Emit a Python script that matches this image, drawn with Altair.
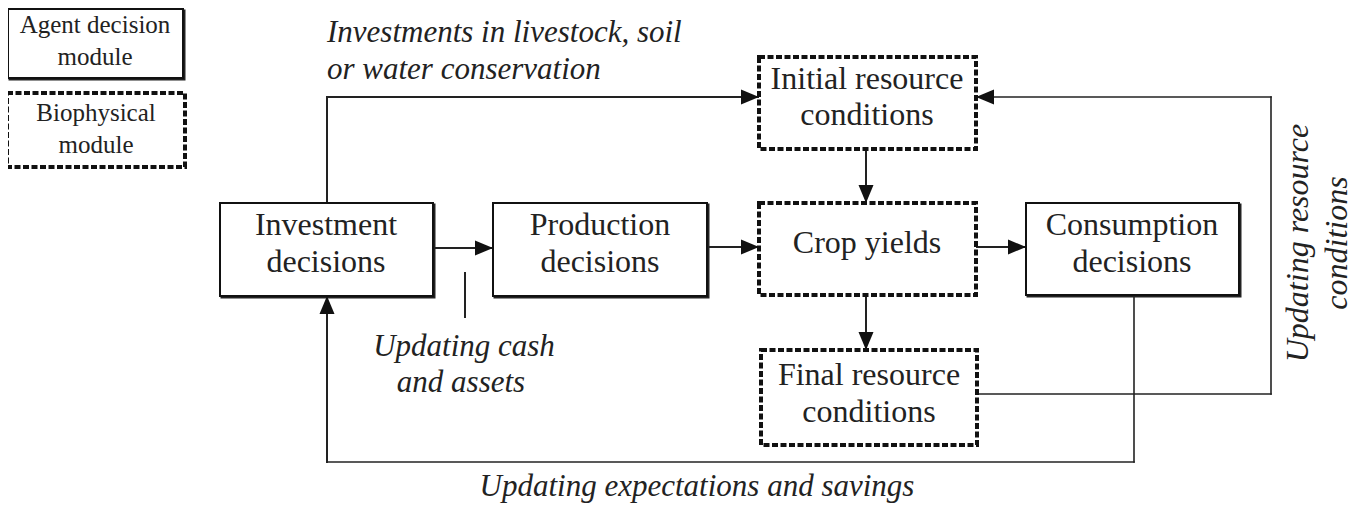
import altair as alt
import pandas as pd

# ---- boxes (image pixel coordinates) ----
box_name = ["legend_agent", "legend_bio", "investment", "production",
            "initial", "crop", "final", "consumption"]
box_x1 = [8, 7, 220, 493, 759, 759, 761, 1026]
box_x2 = [183, 185, 433, 707, 976, 976, 977, 1239]
box_y1 = [9, 93, 203, 203, 57, 203, 350, 203]
box_y2 = [78, 167, 296, 296, 149, 295, 445, 295]
box_kind = ["agent", "bio", "agent", "agent", "bio", "bio", "bio", "agent"]

# ---- connector segments ----
seg_x1 = [433, 327, 327, 866, 707, 976, 866, 977, 1271, 1271, 1134, 1134, 327, 465]
seg_x2 = [493, 327, 759, 866, 759, 1026, 866, 1271, 1271, 976, 1134, 327, 327, 465]
seg_y1 = [248, 203, 97, 149, 247, 247, 295, 394, 394, 97, 295, 462, 462, 273]
seg_y2 = [248, 97, 97, 203, 247, 247, 350, 394, 97, 97, 462, 462, 296, 317]
seg_w = [2, 2, 2, 2, 2, 2, 2, 1.6, 1.6, 1.6, 1.6, 1.6, 2, 2]

# ---- arrow heads (tip positions, direction in degrees) ----
head_x = [493, 759, 866, 759, 1026, 866, 976, 327]
head_y = [248, 97, 203, 247, 247, 350, 97, 296]
head_angle = [0, 0, 90, 0, 0, 90, 180, 270]

# ---- box labels ----
lab_text = ["Agent decision", "module", "Biophysical", "module",
            "Investment", "decisions", "Production", "decisions",
            "Initial resource", "conditions", "Crop yields",
            "Consumption", "decisions", "Final resource", "conditions"]
lab_x = [95, 95, 96, 96, 326, 326, 600, 600, 867, 867, 867, 1132, 1132, 869, 869]
lab_y = [25, 57, 113, 145, 225, 262, 225, 262, 79, 115, 243, 225, 262, 375, 412]
lab_size = [25, 25, 25, 25, 32, 32, 32, 32, 32, 32, 32, 32, 32, 32, 32]

# ---- italic flow labels ----
it_text = ["Investments in livestock, soil", "or water conservation",
           "Updating cash", "and assets", "Updating expectations and savings"]
it_x = [327, 327, 464, 461, 697]
it_y = [33, 70, 347, 383, 487]
it_align = ["left", "left", "center", "center", "center"]

rot_text = ["Updating resource", "conditions"]
rot_x = [1298, 1337]
rot_y = [243, 243]

FONT = "Liberation Serif"
W, H = 1348, 495
xs = alt.Scale(domain=[8, 8 + W], nice=False, zero=False)
ys = alt.Scale(domain=[8, 8 + H], nice=False, zero=False, reverse=True)
X = lambda f: alt.X(f, type="quantitative", scale=xs, axis=None)
Y = lambda f: alt.Y(f, type="quantitative", scale=ys, axis=None)

boxes = pd.DataFrame(dict(name=box_name, x1=box_x1, x2=box_x2, y1=box_y1,
                          y2=box_y2, kind=box_kind))
segs = pd.DataFrame(dict(x1=seg_x1, x2=seg_x2, y1=seg_y1, y2=seg_y2, w=seg_w))
heads = pd.DataFrame(dict(x=head_x, y=head_y, a=head_angle))
labs = pd.DataFrame(dict(t=lab_text, x=lab_x, y=lab_y, s=lab_size))
its = pd.DataFrame(dict(t=it_text, x=it_x, y=it_y, al=it_align))
rots = pd.DataFrame(dict(t=rot_text, x=rot_x, y=rot_y))

lines = alt.Chart(segs).mark_rule(color="#222", strokeCap="square").encode(
    x=X("x1"), x2="x2", y=Y("y1"), y2="y2",
    strokeWidth=alt.StrokeWidth("w:Q", scale=None))

shadow = alt.Chart(boxes).transform_filter("datum.kind == 'agent'").transform_calculate(
    sx1="datum.x1 + 1.5", sx2="datum.x2 + 1.5", sy1="datum.y1 + 1.5", sy2="datum.y2 + 1.5"
).mark_rect(fill="#222", stroke="#222", strokeWidth=2).encode(
    x=X("sx1"), x2="sx2", y=Y("sy1"), y2="sy2")

solid = alt.Chart(boxes).transform_filter("datum.kind == 'agent'").mark_rect(
    fill="white", stroke="#111", strokeWidth=2).encode(
    x=X("x1"), x2="x2", y=Y("y1"), y2="y2")

dashed = alt.Chart(boxes).transform_filter("datum.kind == 'bio'").mark_rect(
    fill="white", stroke="#111", strokeWidth=4, strokeDash=[6, 2.5]).encode(
    x=X("x1"), x2="x2", y=Y("y1"), y2="y2")

arrow_path = "M0,0 L-1.8,-0.75 L-1.8,0.75 Z"
arrows = alt.Chart(heads).mark_point(
    shape=arrow_path, filled=True, color="#111", size=400, opacity=1).encode(
    x=X("x"), y=Y("y"), angle=alt.Angle("a:Q", scale=None))

labels = alt.Chart(labs).mark_text(font=FONT, color="#222", baseline="middle",
                                   align="center").encode(
    x=X("x"), y=Y("y"), text="t:N", size=alt.Size("s:Q", scale=None))

it_left = alt.Chart(its).transform_filter("datum.al == 'left'").mark_text(
    font=FONT, fontStyle="italic", fontSize=31, color="#222",
    baseline="middle", align="left").encode(x=X("x"), y=Y("y"), text="t:N")
it_center = alt.Chart(its).transform_filter("datum.al == 'center'").mark_text(
    font=FONT, fontStyle="italic", fontSize=31, color="#222",
    baseline="middle", align="center").encode(x=X("x"), y=Y("y"), text="t:N")
rot = alt.Chart(rots).mark_text(
    font=FONT, fontStyle="italic", fontSize=32, color="#222",
    baseline="middle", align="center", angle=270).encode(
    x=X("x"), y=Y("y"), text="t:N")

chart = alt.layer(lines, shadow, solid, dashed, arrows, labels, it_left, it_center, rot).properties(
    width=W, height=H, padding=0, autosize=alt.AutoSizeParams(type="none"),
    background="white"
).configure_view(stroke=None)

chart.save("out.html", embed_options={"renderer": "svg", "actions": False})
